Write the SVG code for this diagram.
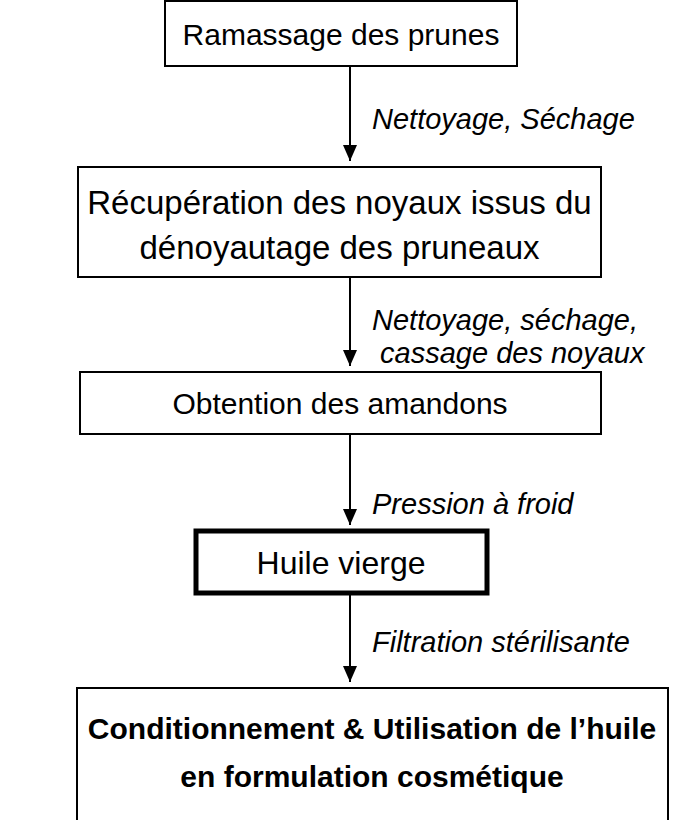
<svg xmlns="http://www.w3.org/2000/svg" width="678" height="820" viewBox="0 0 678 820">
<style>
.box{fill:#fff;stroke:#000;stroke-width:2}
.thick{fill:#fff;stroke:#000;stroke-width:5}
.t{font-family:"Liberation Sans",Arial,sans-serif;font-size:30px;fill:#000;text-anchor:middle}
.big{font-size:33px}
.b{font-weight:bold}
.lbl{font-family:"Liberation Sans",Arial,sans-serif;font-size:29px;font-style:italic;fill:#000}
.c{stroke:#000;stroke-width:2;fill:none;marker-end:url(#ah)}
</style>
<defs>
<marker id="ah" viewBox="0 0 16 14" refX="16" refY="7" markerWidth="16" markerHeight="14" markerUnits="userSpaceOnUse" orient="auto">
<path d="M0,0 L16,7 L0,14 Z" fill="#000"/>
</marker>
</defs>
<rect width="678" height="820" fill="#fff"/>
<g id="connectors">
<line class="c" x1="350" y1="66" x2="350" y2="161"/>
<line class="c" x1="350" y1="277" x2="350" y2="366"/>
<line class="c" x1="350" y1="434" x2="350" y2="525"/>
<line class="c" x1="350" y1="594" x2="350" y2="682"/>
<text class="lbl" x="372" y="129">Nettoyage, Séchage</text>
<text class="lbl" x="372" y="330">Nettoyage, séchage,</text>
<text class="lbl" x="372" y="363" xml:space="preserve"> cassage des noyaux</text>
<text class="lbl" x="372" y="514">Pression à froid</text>
<text class="lbl" x="372" y="652">Filtration stérilisante</text>
</g>
<g id="n1">
<rect class="box" x="165" y="1" width="352" height="65"/>
<text class="t" x="341" y="45">Ramassage des prunes</text>
</g>
<g id="n2">
<rect class="box" x="78" y="167" width="523" height="110"/>
<text class="t big" x="339.5" y="214">Récupération des noyaux issus du</text>
<text class="t big" x="339.5" y="259">dénoyautage des pruneaux</text>
</g>
<g id="n3">
<rect class="box" x="80" y="372" width="521" height="62"/>
<text class="t" x="340" y="414">Obtention des amandons</text>
</g>
<g id="n4">
<rect class="thick" x="196" y="531" width="291" height="62"/>
<text class="t" style="font-size:32px" x="341" y="574">Huile vierge</text>
</g>
<g id="n5">
<rect class="box" x="77" y="688" width="591" height="140"/>
<text class="t b" x="372" y="739">Conditionnement &amp; Utilisation de l’huile</text>
<text class="t b" x="372" y="787">en formulation cosmétique</text>
</g>
</svg>
